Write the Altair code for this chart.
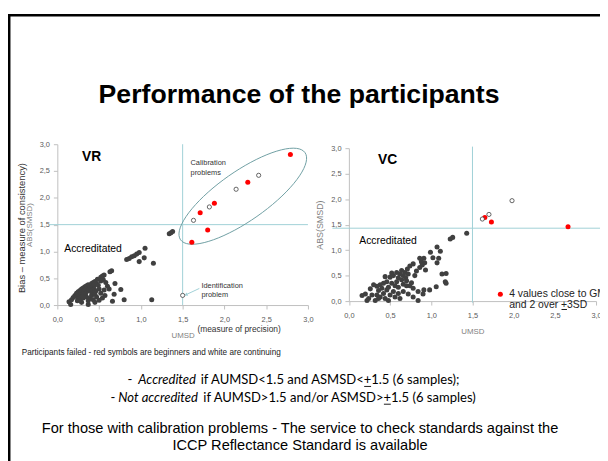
import math
import altair as alt
import pandas as pd

W, H = 600, 453

# ---------------- data ----------------
ticks = [0.0, 0.5, 1.0, 1.5, 2.0, 2.5, 3.0]

# VR panel
vr_dark_x = [1.34, 1.36, 1.38, 0.83, 0.86, 0.89, 0.92, 0.95, 0.98, 1.05, 1.04, 0.98, 1.15,
             0.65, 0.63, 0.56, 0.54, 0.52, 0.55, 0.58, 0.60, 0.62, 0.52, 0.69, 0.76, 0.68,
             0.80, 1.13, 0.66,
             0.14, 0.16, 0.17, 0.19, 0.21, 0.23, 0.25, 0.27, 0.29, 0.31, 0.33, 0.35, 0.37,
             0.39, 0.41, 0.43, 0.45, 0.47, 0.49,
             0.24, 0.26, 0.28, 0.30, 0.32, 0.34, 0.36, 0.38, 0.40, 0.42, 0.44, 0.46, 0.50, 0.52,
             0.24, 0.27, 0.29, 0.31, 0.33, 0.35, 0.37, 0.39, 0.41, 0.43, 0.45, 0.47, 0.50, 0.54,
             0.57, 0.37, 0.30, 0.34, 0.41, 0.45, 0.56, 0.48, 0.44]
vr_dark_y = [1.33, 1.35, 1.37, 0.85, 0.87, 0.90, 0.92, 0.95, 0.98, 1.06, 0.88, 0.81, 0.78,
             0.64, 0.62, 0.56, 0.54, 0.52, 0.47, 0.42, 0.35, 0.30, 0.45, 0.40, 0.29, 0.20,
             0.10, 0.10, 0.07,
             0.06, 0.01, 0.10, 0.14, 0.18, 0.22, 0.25, 0.27, 0.30, 0.32, 0.34, 0.36, 0.38,
             0.35, 0.40, 0.42, 0.44, 0.40, 0.37,
             0.15, 0.19, 0.24, 0.21, 0.27, 0.30, 0.26, 0.29, 0.32, 0.35, 0.30, 0.26, 0.30, 0.22,
             0.08, 0.11, 0.05, 0.13, 0.18, 0.15, 0.08, 0.12, 0.18, 0.10, 0.05, 0.15, 0.09, 0.13,
             0.18, 0.01, 0.16, 0.22, 0.24, 0.20, 0.28, 0.48, 0.37]
vr_red_x = [1.61, 1.71, 1.80, 1.88, 2.28, 2.79]
vr_red_y = [1.17, 1.72, 1.40, 1.90, 2.29, 2.81]
vr_white_x = [1.63, 1.82, 2.14, 2.41, 1.50]
vr_white_y = [1.58, 1.83, 2.16, 2.42, 0.18]

# VC panel
vc_dark_x = [1.43, 1.26, 1.23, 1.07, 1.11, 0.99, 1.02, 1.09, 1.07, 0.91, 0.86, 0.88, 0.92,
             0.89, 0.93, 1.18, 1.13, 1.18, 1.17, 1.06, 0.98, 0.91, 0.84, 0.84, 0.90, 0.78,
             0.72, 0.74, 0.76, 0.78, 0.74, 0.71, 0.68, 0.72, 0.66, 0.69, 0.62, 0.58, 0.54,
             0.60, 0.64, 0.58, 0.50, 0.52, 0.46, 0.42, 0.38, 0.34, 0.30, 0.40, 0.36, 0.46,
             0.54, 0.60, 0.66, 0.62, 0.56, 0.50, 0.44, 0.38, 0.32, 0.28, 0.24, 0.20, 0.16,
             0.22, 0.42, 0.34, 0.48, 0.78, 0.70, 0.66, 0.82, 0.56, 0.48, 0.64, 0.70, 0.52,
             0.36, 0.26, 0.44, 0.60, 0.80, 0.86]
vc_dark_y = [1.33, 1.25, 1.22, 1.06, 0.98, 0.96, 0.85, 0.84, 0.75, 0.84, 0.84, 0.77, 0.75,
             0.71, 0.61, 0.54, 0.53, 0.35, 0.38, 0.28, 0.22, 0.22, 0.19, 0.01, 0.14, 0.08,
             0.14, 0.30, 0.36, 0.73, 0.69, 0.63, 0.56, 0.53, 0.50, 0.46, 0.53, 0.56, 0.50,
             0.46, 0.42, 0.38, 0.47, 0.35, 0.38, 0.35, 0.32, 0.29, 0.32, 0.25, 0.21, 0.22,
             0.19, 0.15, 0.19, 0.05, 0.08, 0.12, 0.05, 0.08, 0.01, 0.12, 0.05, 0.14, 0.11,
             0.01, 0.15, 0.12, 0.01, 0.25, 0.30, 0.33, 0.59, 0.30, 0.27, 0.60, 0.40, 0.55,
             0.05, 0.24, 0.48, 0.27, 0.50, 0.66]
vc_red_x = [1.65, 1.73, 2.66]
vc_red_y = [1.64, 1.55, 1.46]
vc_white_x = [1.62, 1.70, 1.98]
vc_white_y = [1.61, 1.70, 1.97]

# limits
vr_limit = 1.5
vc_limit_x = 1.5
vc_limit_y = 1.43

# "Calibration problems" outline (centre in data units, semi-axes in px, tilt in degrees)
ell_cx, ell_cy, ell_a, ell_b, ell_tilt = 2.22, 2.03, 77.0, 25.0, 35.0

# ---------------- helpers ----------------
FONT = "Liberation Sans"
CAL = "Lato"
LIGHT = "#9fd0d6"
AXC = "#bfbfbf"
label_expr = "replace(format(datum.value, '.1f'), '.', ',')"
dummy = pd.DataFrame({"d": [0]})


def xaxis(offset):
    return alt.Axis(orient="bottom", offset=offset, values=ticks, labelExpr=label_expr,
                    grid=False, domainColor=AXC, tickColor=AXC, tickSize=4, labelPadding=7,
                    labelColor="#595959", labelFont=FONT, labelFontSize=7.5,
                    labelFlush=False, labelOverlap=False,
                    titleColor="#7f7f7f", titleFont=FONT, titleFontSize=8,
                    titleFontWeight="normal", titlePadding=8)


def yaxis(offset, tsize):
    return alt.Axis(orient="left", offset=offset, values=ticks, labelExpr=label_expr,
                    grid=False, domainColor=AXC, tickColor=AXC, tickSize=4, labelPadding=4,
                    labelColor="#595959", labelFont=FONT, labelFontSize=7.5,
                    labelFlush=False, labelOverlap=False,
                    titleColor="#7f7f7f", titleFont=FONT, titleFontSize=tsize,
                    titleFontWeight="normal", titlePadding=6)


def txt(s, x, y, size, color="#000000", font=FONT, align="left", **kw):
    return alt.Chart(dummy).mark_text(text=s, fontSize=size, font=font, color=color,
                                      align=align, baseline="alphabetic", **kw).encode(
        x=alt.value(x), y=alt.value(y))


def uline(x1, x2, y):
    return alt.Chart(dummy).mark_rule(color="#000000", strokeWidth=0.9).encode(
        x=alt.value(x1), x2=alt.value(x2), y=alt.value(y))


def panel(xs, ys, xax, yax, dark, red, white, hline, vline, extra=None):
    X = alt.X("x:Q", scale=xs, axis=xax, title="UMSD")
    Y = alt.Y("y:Q", scale=ys, axis=yax, title="ABS(SMSD)")
    h = alt.Chart(pd.DataFrame({"x": [hline[0]], "x2": [hline[1]], "y": [hline[2]]})).mark_rule(
        color=LIGHT, strokeWidth=1).encode(x=X, x2="x2:Q", y=Y)
    v = alt.Chart(pd.DataFrame({"x": [vline[0]], "y": [vline[1]], "y2": [vline[2]]})).mark_rule(
        color=LIGHT, strokeWidth=1).encode(x=X, y=Y, y2="y2:Q")
    d = alt.Chart(pd.DataFrame({"x": dark[0], "y": dark[1]})).mark_circle(
        size=26, color="#404040", opacity=1).encode(x=X, y=Y)
    r = alt.Chart(pd.DataFrame({"x": red[0], "y": red[1]})).mark_circle(
        size=26, color="#ff0000", opacity=1).encode(x=X, y=Y)
    w = alt.Chart(pd.DataFrame({"x": white[0], "y": white[1]})).mark_circle(
        size=18, fill="white", stroke="#404040", strokeWidth=0.8, opacity=1).encode(x=X, y=Y)
    layers = [h, v]
    if extra is not None:
        layers += extra(X, Y)
    layers += [d, r, w]
    return alt.layer(*layers)


LXS = alt.Scale(domain=[0, 3], range=[50, 304], nice=False, zero=False)
LYS = alt.Scale(domain=[0, 3], range=[298, 135], nice=False, zero=False)
RXS = alt.Scale(domain=[0, 3], range=[345.5, 596], nice=False, zero=False)
RYS = alt.Scale(domain=[0, 3], range=[294, 139], nice=False, zero=False)

pxx = (304 - 50) / 3.0
pxy = (298 - 135) / 3.0


def vr_extra(X, Y):
    th = math.radians(ell_tilt)
    ex, ey, eo = [], [], []
    for i in range(73):
        t = math.radians(i * 5)
        dx = ell_a * math.cos(t) * math.cos(th) - ell_b * math.sin(t) * math.sin(th)
        dy = ell_a * math.cos(t) * math.sin(th) + ell_b * math.sin(t) * math.cos(th)
        ex.append(ell_cx + dx / pxx)
        ey.append(ell_cy + dy / pxy)
        eo.append(i)
    ell = alt.Chart(pd.DataFrame({"x": ex, "y": ey, "o": eo})).mark_line(
        color="#6f9ea3", strokeWidth=1).encode(x=X, y=Y, order="o:Q")
    arr = alt.Chart(pd.DataFrame({"x": [1.70], "x2": [1.55], "y": [0.31], "y2": [0.20]})).mark_rule(
        color=LIGHT, strokeWidth=1).encode(x=X, x2="x2:Q", y=Y, y2="y2:Q")
    head = alt.Chart(pd.DataFrame({"x": [1.545], "y": [0.195]})).mark_point(
        shape="triangle", size=14, filled=True, color=LIGHT, opacity=1, angle=243).encode(x=X, y=Y)
    return [ell, arr, head]


left = panel(LXS, LYS, xaxis(298 - H), yaxis(-50, 8),
             (vr_dark_x, vr_dark_y), (vr_red_x, vr_red_y), (vr_white_x, vr_white_y),
             (-0.1, 3.0, vr_limit), (vr_limit, 0.0, 3.0), vr_extra)
right = panel(RXS, RYS, xaxis(294 - H), yaxis(-345.5, 9),
              (vc_dark_x, vc_dark_y), (vc_red_x, vc_red_y), (vc_white_x, vc_white_y),
              (-0.2, 3.1, vc_limit_y), (vc_limit_x, -0.03, 3.03))

plots = alt.layer(left, right).resolve_scale(x="independent", y="independent")

# ---------------- slide texts ----------------
FS = 13.2
PA = 360.5   # where the underlined "+" starts, line A
PB = 380.5   # same, line B
texts = [
    # slide frame
    alt.Chart(dummy).mark_rect(filled=False, fill=None, stroke="#000000", strokeWidth=2.5).encode(
        x=alt.value(1.25), y=alt.value(4.25), x2=alt.value(W + 20), y2=alt.value(H + 20)),
    txt("Performance of the participants", 295, 93, 27, align="center", fontWeight="bold"),
    txt("VR", 75, 152, 14, fontWeight="bold"),
    txt("VC", 375, 155, 14, fontWeight="bold"),
    txt("Accreditated", 57, 244, 10.5),
    txt("Accreditated", 356, 236, 10.5),
    txt("Calibration", 185, 156, 7.5, color="#333333"),
    txt("problems", 185, 166, 7.5, color="#333333"),
    txt("Identification", 196, 281, 7.5, color="#333333"),
    txt("problem", 196, 290, 7.5, color="#333333"),
    txt("(measure of precision)", 192, 325, 8.5, color="#333333"),
    alt.Chart(dummy).mark_text(text="Bias \u2013 measure of consistency)", fontSize=9.5, font=FONT,
                               color="#333333", angle=270, align="center",
                               baseline="middle").encode(x=alt.value(14), y=alt.value(220)),
    alt.Chart(dummy).mark_circle(size=26, color="#ff0000", opacity=1).encode(
        x=alt.value(499), y=alt.value(287)),
    txt("4 values close to GM", 508, 290, 10.5, color="#222222"),
    txt("and 2 over", 508, 301, 10.5, color="#222222"),
    txt("+3SD", 560.5, 301, 10.5, color="#222222"),
    uline(561, 566.5, 302.5),
    txt("Participants failed - red symbols are beginners and white are continuing", 14, 349, 8.3,
        color="#222222"),
    # line A
    txt("-", 121, 378, FS, font=CAL),
    txt("Accredited", PA - 170, 378, FS, font=CAL, fontStyle="italic", align="right"),
    txt("if  AUMSD<1.5 and ASMSD<", PA, 378, FS, font=CAL, align="right"),
    txt("+1.5 (6 samples);", PA, 378, FS, font=CAL),
    uline(PA + 0.5, PA + 7.5, 380.5),
    # line B
    txt("-", 104, 396, FS, font=CAL),
    txt("Not accredited", PB - 188, 396, FS, font=CAL, fontStyle="italic", align="right"),
    txt("if  AUMSD>1.5 and/or ASMSD>", PB, 396, FS, font=CAL, align="right"),
    txt("+1.5 (6 samples)", PB, 396, FS, font=CAL),
    uline(PB + 0.5, PB + 7.5, 398.5),
    txt("For those with calibration problems  - The service to check standards against the",
        296, 428, 14.8, align="center"),
    txt("ICCP Reflectance Standard  is available", 296, 445, 14.8, align="center"),
]

chart = alt.layer(plots, *texts).properties(
    width=W, height=H, padding=0, autosize=alt.AutoSizeParams(type="none"),
    background="white"
).configure_view(stroke=None)

chart.save("out.html", embed_options={"renderer": "svg", "actions": False})
